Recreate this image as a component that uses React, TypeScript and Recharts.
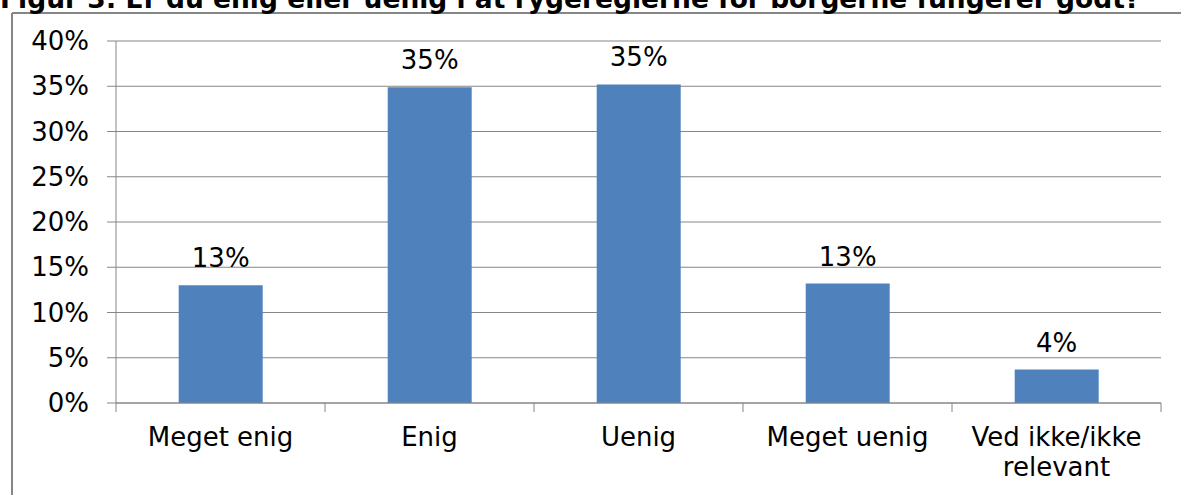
import { Bar, BarChart, CartesianGrid, LabelList, XAxis, YAxis } from "recharts"

const categories = ["Meget enig", "Enig", "Uenig", "Meget uenig", "Ved ikke/ikke\nrelevant"]
const shares = [13.0, 34.9, 35.2, 13.2, 3.7]
const yTicks = [0, 5, 10, 15, 20, 25, 30, 35, 40]
const title = "Figur 3: Er du enig eller uenig i at rygereglerne for borgerne fungerer godt?"

const font = "Verdana, 'DejaVu Sans', sans-serif"
const gray = "#868686"

const W = 1181
const H = 495
const margin = { top: 41, right: 20, bottom: 0, left: 0 }
const yAxisW = 116
const labelGap = 25

const data = categories.map((name, i) => ({ name, share: shares[i] }))

// category label plus the small tick marks on the band edges (Excel style)
function CategoryTick(props: any) {
  const { x, y, payload, index, visibleTicksCount } = props
  const count = visibleTicksCount || categories.length
  const axisW = typeof props.width === "number" ? props.width : W - yAxisW - margin.left - margin.right
  const half = axisW / count / 2
  const axisY = y - labelGap
  const lines = String(payload.value).split("\n")
  return (
    <g>
      <line x1={x - half} x2={x - half} y1={axisY} y2={axisY + 9} stroke={gray} />
      {index === count - 1 && <line x1={x + half} x2={x + half} y1={axisY} y2={axisY + 9} stroke={gray} />}
      <text x={x} y={y} textAnchor="middle" fill="#000" fontSize={26} fontFamily={font}>
        {lines.map((line, i) => (
          <tspan key={i} x={x} dy={i === 0 ? "0.71em" : 30}>
            {line}
          </tspan>
        ))}
      </text>
    </g>
  )
}

export default function App() {
  return (
    <div style={{ position: "absolute", left: 0, top: 0, width: W, height: H, overflow: "hidden", background: "#fff" }}>
      <svg width={W} height={H} style={{ position: "absolute", left: 0, top: 0 }}>
        <line x1={12} y1={13} x2={W} y2={13} stroke={gray} strokeWidth={2} />
        <line x1={12} y1={13} x2={12} y2={H} stroke={gray} strokeWidth={2} />
        <text x={0} y={8} fontSize={26.5} fontWeight="bold" fontFamily={font} fill="#000">
          {title}
        </text>
      </svg>
      <div style={{ position: "absolute", left: 0, top: 0 }}>
        <BarChart
          width={W}
          height={H}
          data={data}
          margin={margin}
          barCategoryGap="30%"
          style={{ fontFamily: font }}
        >
          <CartesianGrid vertical={false} stroke={gray} />
          <XAxis
            dataKey="name"
            height={92}
            stroke={gray}
            tickLine={false}
            tickSize={0}
            tickMargin={labelGap}
            interval={0}
            tick={<CategoryTick />}
          />
          <YAxis
            domain={[0, 40]}
            ticks={yTicks}
            width={yAxisW}
            tickSize={9}
            tickMargin={18}
            stroke={gray}
            tick={{ fill: "#000", fontSize: 26, fontFamily: font }}
            tickFormatter={(v) => `${v}%`}
          />
          <Bar dataKey="share" fill="#4F81BD" isAnimationActive={false}>
            <LabelList
              dataKey="share"
              position="top"
              offset={18}
              fill="#000"
              fontSize={26}
              fontFamily={font}
              formatter={(v: any) => `${Math.round(v)}%`}
            />
          </Bar>
        </BarChart>
      </div>
    </div>
  )
}
